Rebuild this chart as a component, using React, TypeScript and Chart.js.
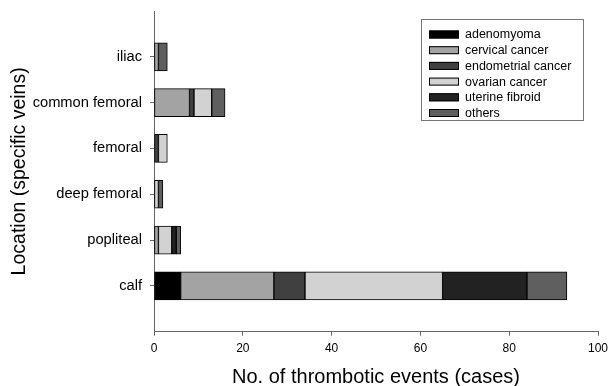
import React, { useEffect, useRef } from "react";
import { Chart, registerables } from "chart.js";

Chart.register(...registerables);

const categories = ["iliac", "common femoral", "femoral", "deep femoral", "popliteal", "calf"];
const seriesNames = ["adenomyoma", "cervical cancer", "endometrial cancer", "ovarian cancer", "uterine fibroid", "others"];
const adenomyoma = [0, 0, 0, 0, 0, 6];
const cervicalCancer = [1, 8, 0, 0, 1, 21];
const endometrialCancer = [0, 1, 1, 0, 0, 7];
const ovarianCancer = [0, 4, 2, 1, 3, 31];
const uterineFibroid = [0, 0, 0, 0, 1, 19];
const others = [2, 3, 0, 1, 1, 9];
const xTicks = [0, 20, 40, 60, 80, 100];

const seriesValues = [adenomyoma, cervicalCancer, endometrialCancer, ovarianCancer, uterineFibroid, others];
const seriesColors = ["#000000", "#a3a3a3", "#404040", "#d2d2d2", "#222222", "#5f5f5f"];

const FONT = "'Liberation Sans', Arial, Helvetica, sans-serif";

const boxLegend = {
  id: "boxLegend",
  afterDraw(chart: any) {
    const ctx = chart.ctx;
    const x0 = 421, y0 = 19, w = 162, h = 101;
    ctx.save();
    ctx.strokeStyle = "#777777";
    ctx.lineWidth = 1;
    ctx.strokeRect(x0 + 0.5, y0 + 0.5, w, h);
    ctx.font = `12.5px ${FONT}`;
    ctx.textBaseline = "middle";
    ctx.textAlign = "left";
    chart.data.datasets.forEach((ds: any, i: number) => {
      const cy = 34.5 + i * 15.7;
      ctx.fillStyle = ds.backgroundColor;
      ctx.fillRect(429, cy - 4, 30, 8);
      ctx.strokeStyle = "#000000";
      ctx.strokeRect(429.5, cy - 3.5, 29, 7);
      ctx.fillStyle = "#000000";
      ctx.fillText(ds.label, 465, cy + 0.5);
    });
    ctx.restore();
  },
};

export default function App() {
  const ref = useRef<HTMLCanvasElement | null>(null);
  useEffect(() => {
    document.body.style.margin = "0";
    const canvas = ref.current!;
    const chart = new Chart(canvas, {
      type: "bar",
      data: {
        datasets: seriesNames.map((name, s) => ({
          label: name,
          data: seriesValues[s]
            .map((v, i) => ({ x: v, y: i + 1 }))
            .filter((p) => p.x > 0),
          backgroundColor: seriesColors[s],
          borderColor: "#000000",
          borderWidth: 1,
          borderSkipped: false,
          barThickness: 28,
        })),
      },
      options: {
        indexAxis: "y",
        animation: false,
        responsive: false,
        maintainAspectRatio: false,
        layout: { padding: { top: 11, right: 11, left: 0, bottom: 0 } },
        plugins: { legend: { display: false }, tooltip: { enabled: false } },
        scales: {
          x: {
            type: "linear",
            stacked: true,
            offset: false,
            min: 0,
            max: 100,
            afterBuildTicks: (scale: any) => {
              scale.ticks = xTicks.map((v) => ({ value: v }));
            },
            afterFit: (scale: any) => {
              scale.height = 54.3;
              scale.paddingLeft = 0;
              scale.paddingRight = 0;
            },
            ticks: { color: "#000", font: { family: FONT, size: 12 }, padding: 6, maxRotation: 0 },
            grid: { offset: false, drawOnChartArea: false, drawTicks: true, tickLength: 4, color: "#666666" },
            border: { color: "#666666", width: 1 },
            title: {
              display: true,
              text: "No. of thrombotic events (cases)",
              color: "#000",
              font: { family: FONT, size: 20, lineHeight: 1 },
              padding: { top: 0, bottom: -1 },
            },
          },
          y: {
            type: "linear",
            stacked: true,
            reverse: true,
            offset: false,
            min: 0,
            max: 7,
            afterBuildTicks: (scale: any) => {
              scale.ticks = categories.map((_, i) => ({ value: i + 1 }));
            },
            afterFit: (scale: any) => {
              scale.width = 154;
              scale.paddingTop = 0;
              scale.paddingBottom = 0;
            },
            ticks: {
              color: "#000",
              font: { family: FONT, size: 14.7 },
              padding: 8,
              autoSkip: false,
              callback: (v: any) => categories[Number(v) - 1] ?? "",
            },
            grid: { offset: false, drawOnChartArea: false, drawTicks: true, tickLength: 4, color: "#666666" },
            border: { color: "#666666", width: 1 },
            title: {
              display: true,
              text: "Location (specific veins)",
              color: "#000",
              font: { family: FONT, size: 19.5, lineHeight: 1 },
              padding: { top: 10, bottom: 0 },
            },
          },
        },
      },
      plugins: [boxLegend],
    });
    return () => chart.destroy();
  }, []);
  return (
    <div style={{ position: "fixed", left: 0, top: 0, width: 609, height: 386 }}>
      <canvas ref={ref} width={609} height={386} style={{ width: 609, height: 386 }} />
    </div>
  );
}
